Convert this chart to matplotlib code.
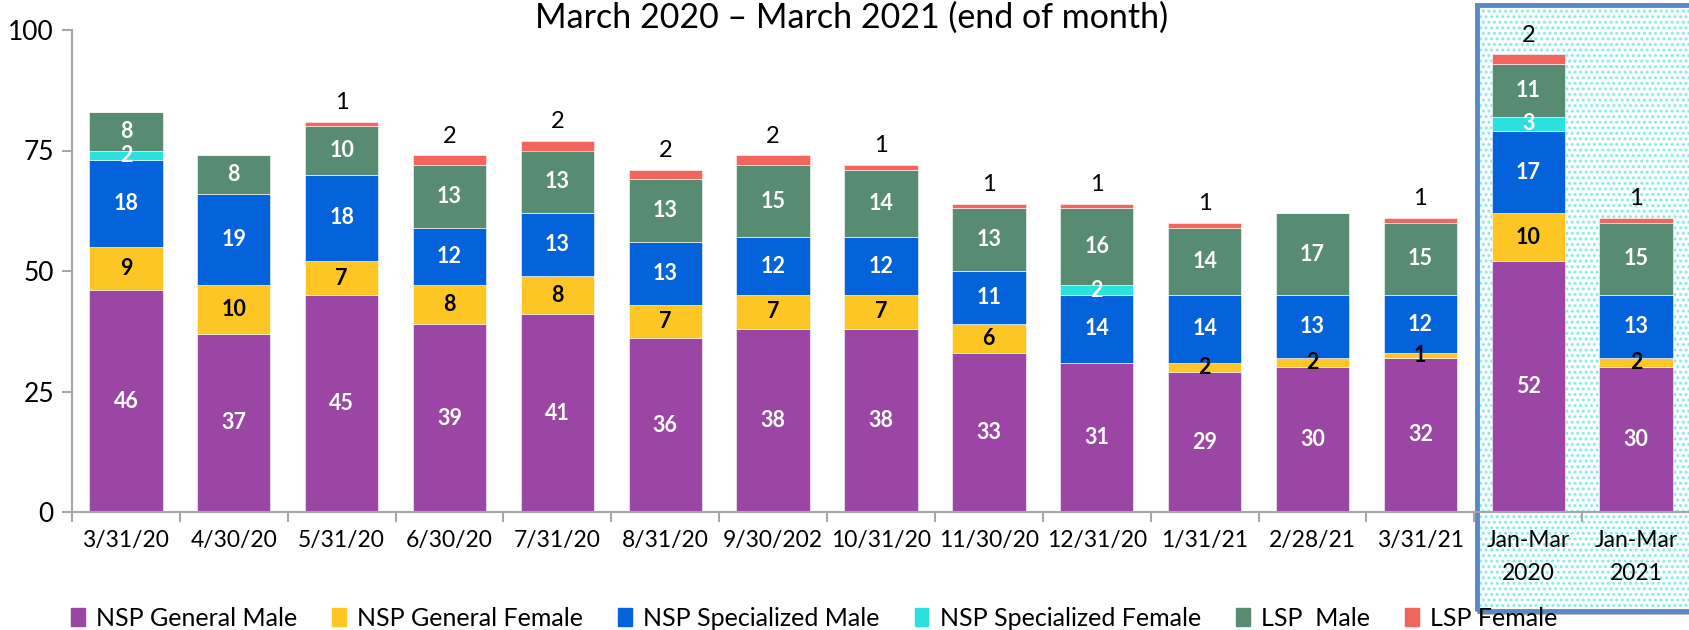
import numpy as np
import matplotlib
matplotlib.use("Agg")
import matplotlib.pyplot as plt
from matplotlib.patches import Patch, Rectangle

plt.rcParams['font.family'] = ['Lato', 'DejaVu Sans']

categories = ["3/31/20", "4/30/20", "5/31/20", "6/30/20", "7/31/20", "8/31/20",
              "9/30/202", "10/31/20", "11/30/20", "12/31/20", "1/31/21", "2/28/21",
              "3/31/21", "Jan-Mar\n2020", "Jan-Mar\n2021"]

nsp_gen_male = [46, 37, 45, 39, 41, 36, 38, 38, 33, 31, 29, 30, 32, 52, 30]
nsp_gen_female = [9, 10, 7, 8, 8, 7, 7, 7, 6, 0, 2, 2, 1, 10, 2]
nsp_spec_male = [18, 19, 18, 12, 13, 13, 12, 12, 11, 14, 14, 13, 12, 17, 13]
nsp_spec_female = [2, 0, 0, 0, 0, 0, 0, 0, 0, 2, 0, 0, 0, 3, 0]
lsp_male = [8, 8, 10, 13, 13, 13, 15, 14, 13, 16, 14, 17, 15, 11, 15]
lsp_female = [0, 0, 1, 2, 2, 2, 2, 1, 1, 1, 1, 0, 1, 2, 1]

series = [
    ("NSP General Male", nsp_gen_male, "#9B46A5", "white"),
    ("NSP General Female", nsp_gen_female, "#FEC624", "black"),
    ("NSP Specialized Male", nsp_spec_male, "#0463DA", "white"),
    ("NSP Specialized Female", nsp_spec_female, "#2DE0E0", "white"),
    ("LSP  Male", lsp_male, "#578C73", "white"),
    ("LSP Female", lsp_female, "#F2655D", None),
]

fig = plt.figure(figsize=(16.9, 6.3), dpi=100)
ax = fig.add_axes([72 / 1690, 1 - 512 / 630, 1 - 72 / 1690, (512 - 30) / 630])
ax.patch.set_alpha(0)

# highlighted box behind the last two bars
shadow = Rectangle((1480 / 1690, 1 - 615 / 630), 0.2, 608 / 630, transform=fig.transFigure,
                   facecolor="#B8B8B8", edgecolor="none", zorder=-3)
plt.rcParams['hatch.linewidth'] = 1.3
dots = Rectangle((1477 / 1690, 1 - 611 / 630), 0.2, 606 / 630, transform=fig.transFigure,
                 facecolor="#F7FEFE", edgecolor="#8DE6E6", hatch="...", linewidth=0, zorder=-2)
frame = Rectangle((1477 / 1690, 1 - 611 / 630), 0.2, 606 / 630, transform=fig.transFigure,
                  facecolor="none", edgecolor="#5A88C2", linewidth=3.5, zorder=-1)
fig.patches.extend([shadow, dots, frame])

x = np.arange(len(categories))
bottom = np.zeros(len(categories))
for name, vals, color, tcolor in series:
    vals = np.array(vals, dtype=float)
    ax.bar(x, vals, 0.68, bottom=bottom, color=color, label=name,
           edgecolor="white", linewidth=0.4)
    for xi, v, b in zip(x, vals, bottom):
        if v == 0:
            continue
        if tcolor is None:
            ax.annotate(f"{int(v)}", (xi, b + v), xytext=(0, 9), textcoords="offset points",
                        ha="center", va="baseline", fontsize=17, color="black")
        else:
            ax.text(xi, b + v / 2, f"{int(v)}", ha="center", va="center",
                    fontsize=15.5, fontweight="bold", color=tcolor)
    bottom += vals

ax.set_xlim(-0.5, len(categories) - 0.5)
ax.set_ylim(0, 100)
ax.set_yticks([0, 25, 50, 75, 100])
ax.set_xticks(x)
ax.set_xticklabels(categories, linespacing=1.7)
ax.set_xticks(np.arange(-0.5, len(categories), 1.0), minor=True)
ax.tick_params(axis="x", which="major", length=0, pad=13, labelsize=16.5)
ax.tick_params(axis="x", which="minor", length=7, width=1.5, color="#A6A6A6")
ax.tick_params(axis="y", length=7, width=1.5, color="#A6A6A6", labelsize=19, pad=6)
for side in ["top", "right"]:
    ax.spines[side].set_visible(False)
for side in ["left", "bottom"]:
    ax.spines[side].set_color("#A6A6A6")
    ax.spines[side].set_linewidth(1.5)

fig.text(0.504, 0.972, "March 2020 \u2013 March 2021 (end of month)", ha="center",
         va="center", fontsize=24.5)

handles = [Patch(color=c, label=n) for n, _, c, _ in series]
fig.legend(handles=handles, loc="center left", bbox_to_anchor=(0.042, 0.019), ncol=6,
           frameon=False, fontsize=18, handlelength=0.55, handleheight=0.7,
           handletextpad=0.45, columnspacing=1.4, borderaxespad=0, borderpad=0)

fig.savefig("out.png", dpi=100)
